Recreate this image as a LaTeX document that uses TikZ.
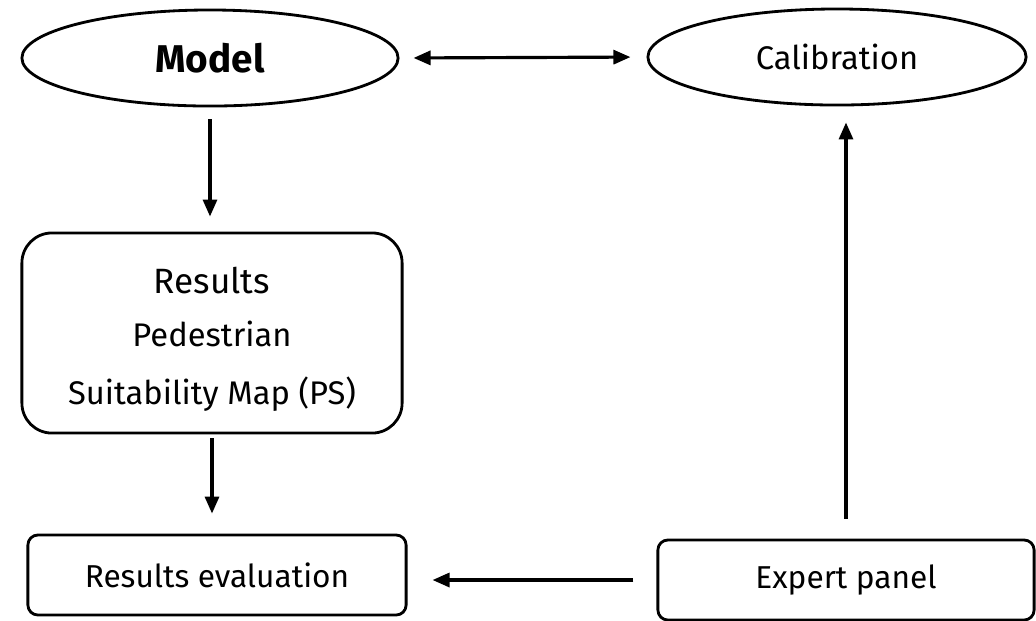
\documentclass[tikz,border=0pt]{standalone}
\usepackage{fontspec}
\setmainfont{Fira Sans}
\usepackage{tikz}
\usetikzlibrary{arrows.meta,positioning,shapes.geometric}
\tikzset{
  tip/.tip={Triangle[length=1.7mm,width=1.4mm]},
  ar/.style={-tip,line width=0.9pt},
  biar/.style={tip-tip,line width=0.9pt},
  oval/.style={draw,ellipse,line width=0.8pt,inner sep=0pt,minimum width=3.76cm,minimum height=0.96cm,font=\fontsize{9.3}{11}\selectfont},
  box/.style={draw,line width=0.8pt,rounded corners=0.1cm,inner sep=0pt,minimum width=3.78cm,minimum height=0.8cm,font=\fontsize{9}{11}\selectfont}
}
\begin{document}
\begin{tikzpicture}[x=0.01cm,y=-0.01cm]
\useasboundingbox (0,0) rectangle (1036,620);
\node[oval,font=\fontsize{11}{13}\selectfont\bfseries] (model) at (210,58) {Model};
\node[oval,minimum width=3.78cm] (calib) at (837,57) {Calibration};
\node[box,minimum width=3.8cm,minimum height=2cm,rounded corners=0.3cm,align=center,font=\fontsize{9.3}{16.4}\selectfont] (res) at (212,333)
  {\rule{0pt}{11pt}{\fontsize{10}{12}\selectfont Results}\\[-1.3pt] Pedestrian\\ Suitability Map (PS)};
\node[box] (eval) at (217,575) {Results evaluation};
\node[box,minimum width=3.76cm] (panel) at (846,580) {Expert panel};
% connectors
\draw[biar,shorten <=0.14cm,shorten >=0.16cm] (model.east) -- (calib.west);
\draw[ar,shorten <=0.12cm,shorten >=0.15cm] (model.south) -- (model.south |- res.north);
\draw[ar,shorten <=0.04cm,shorten >=0.2cm] (res.south) -- (res.south |- eval.north);
\draw[ar,shorten <=0.23cm,shorten >=0.25cm] (panel.west) -- (panel.west -| eval.east);
\draw[ar,shorten <=0.2cm,shorten >=0.16cm] (panel.north) -- (panel.north |- calib.south);
\end{tikzpicture}
\end{document}
